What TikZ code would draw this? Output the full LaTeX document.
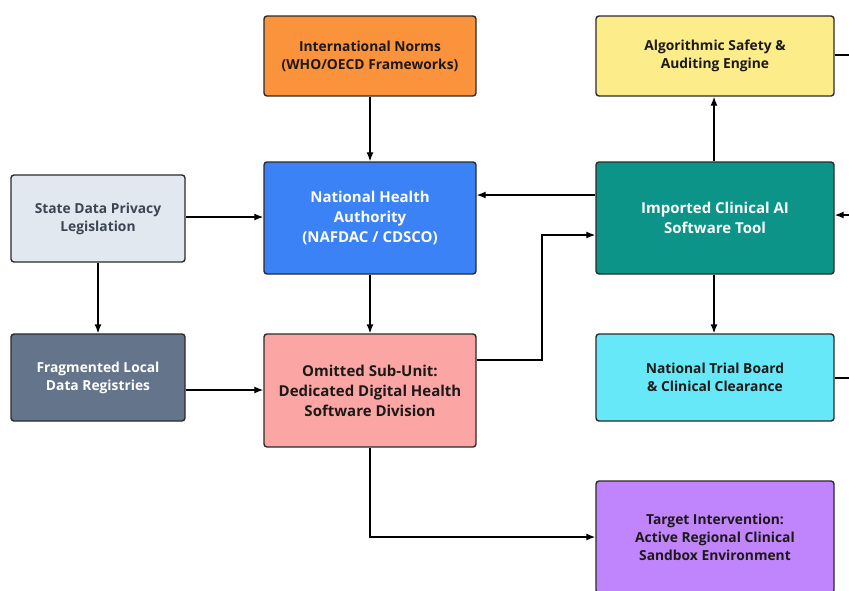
\documentclass[tikz,border=0pt]{standalone}
\usepackage{fontspec}
\setmainfont{Open Sans}
\usetikzlibrary{arrows.meta,positioning}
\definecolor{normorange}{HTML}{FB923C}
\definecolor{safeyellow}{HTML}{FDEC8A}
\definecolor{stategray}{HTML}{E2E8F0}
\definecolor{authblue}{HTML}{3B82F6}
\definecolor{toolteal}{HTML}{0D9488}
\definecolor{regslate}{HTML}{64748B}
\definecolor{unitpink}{HTML}{FCA5A5}
\definecolor{trialcyan}{HTML}{67E8F9}
\definecolor{sandpurple}{HTML}{C084FC}
\definecolor{edgegray}{HTML}{2B2B2B}
\definecolor{inkdark}{HTML}{1C1917}

\begin{document}
\begin{tikzpicture}[
  x=1pt,y=-1pt,
  govbox/.style={rectangle,rounded corners=3pt,draw=edgegray,line width=1.4pt,align=center,
    font=\fontsize{13.8}{18}\selectfont\bfseries,text=inkdark,inner sep=2pt},
  widebox/.style={govbox,minimum width=212pt},
  sidebox/.style={govbox,minimum width=174pt,minimum height=87pt},
  rightbox/.style={govbox,minimum width=238pt},
  bigtext/.style={font=\fontsize{15}{20}\selectfont\bfseries},
  line/.style={-{Latex[length=9pt,width=7pt]},line width=1.3pt,draw=black},
  plain/.style={line width=1.3pt,draw=black}
]
  \clip (0,0) rectangle (849,590);
  \fill[white] (0,0) rectangle (849,590);

  \node[widebox,minimum height=80pt,fill=normorange] (norms) at (370,56) {International Norms\\(WHO/OECD Frameworks)};
  \node[rightbox,minimum height=80pt,fill=safeyellow] (safety) at (715,56) {Algorithmic Safety \&\\Auditing Engine};
  \node[sidebox,fill=stategray,text=regslate!60!black] (state) at (98,218.5) {State Data Privacy\\Legislation};
  \node[widebox,minimum height=112pt,fill=authblue,text=white,bigtext] (nha) at (370,218) {National Health\\Authority\\(NAFDAC / CDSCO)};
  \node[rightbox,minimum height=112pt,fill=toolteal,text=white,bigtext] (tool) at (715,218) {Imported Clinical AI\\Software Tool};
  \node[sidebox,fill=regslate,text=white] (registry) at (98,377.5) {Fragmented Local\\Data Registries};
  \node[widebox,minimum height=113pt,fill=unitpink,bigtext] (subunit) at (370,390.5) {Omitted Sub-Unit:\\Dedicated Digital Health\\Software Division};
  \node[rightbox,minimum height=87pt,fill=trialcyan] (trial) at (715,377.5) {National Trial Board\\\& Clinical Clearance};
  \node[rightbox,minimum height=112pt,fill=sandpurple] (sandbox) at (715,537) {Target Intervention:\\Active Regional Clinical\\Sandbox Environment};

  % connectors leaving the frame on the right
  \coordinate (safeout) at (849,55);
  \coordinate (toolin) at (849,215);
  \coordinate (trialout) at (849,378);

  \draw[line] (norms) -- (nha);
  \draw[line] (state.east |- 0,217) -- (nha.west |- 0,217);
  \draw[line] (tool.west |- 0,195) -- (nha.east |- 0,195);
  \draw[line] (nha) -- (subunit);
  \draw[line] (state) -- (registry);
  \draw[line] (registry.east |- 0,390) -- (subunit.west |- 0,390);
  \draw[line] (subunit.east |- 0,360) -| (542,235) -- (tool.west |- 0,235);
  \draw[line] (tool.north -| 714,0) -- (safety.south -| 714,0);
  \draw[line] (tool.south -| 714,0) -- (trial.north -| 714,0);
  \draw[line] (subunit) |- (sandbox);
  \draw[plain] (safety.east |- safeout) -- (safeout);
  \draw[line] (toolin) -- (tool.east |- toolin);
  \draw[plain] (trial.east |- trialout) -- (trialout);
\end{tikzpicture}
\end{document}
